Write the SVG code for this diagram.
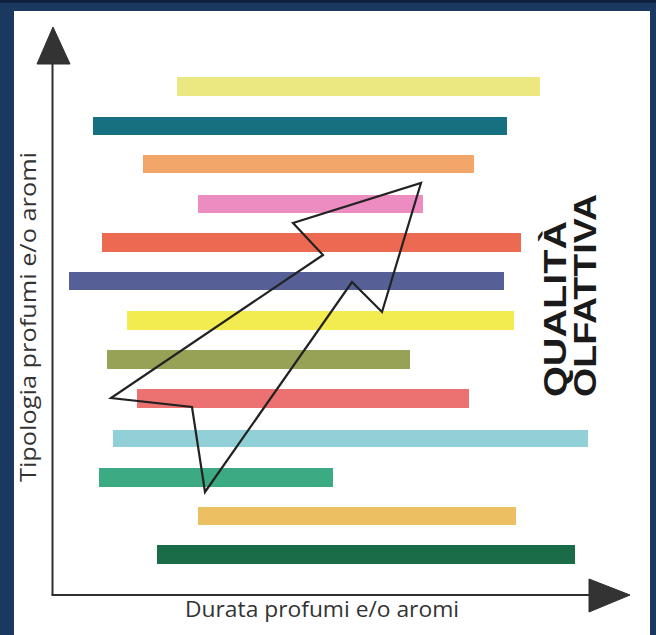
<svg xmlns="http://www.w3.org/2000/svg" width="656" height="635" viewBox="0 0 656 635">
  <style>
    .axis { stroke: #2e2e2e; stroke-width: 2; fill: none; }
    .head { fill: #333333; stroke: #2e2e2e; stroke-width: 1; }
    .lbl { font-family: "Open Sans", "Liberation Sans", sans-serif; font-size: 21px; fill: #333333; }
    .title { font-family: "Liberation Sans", Arial, sans-serif; font-weight: bold; font-size: 31px; fill: #1a1a1a; }
    .big { fill: none; stroke: #222222; stroke-width: 2.2; stroke-linejoin: miter; }
  </style>
  <rect x="0" y="0" width="656" height="635" fill="#1b3861"/>
  <rect x="0" y="0" width="656" height="3" fill="#10223d"/>
  <rect x="14" y="11" width="636" height="624" fill="#ffffff"/>

  <g id="bars">
    <rect id="bar1" x="177" y="77" width="363" height="19" fill="#ebe882"/>
    <rect id="bar2" x="93" y="117" width="414" height="18" fill="#17707f"/>
    <rect id="bar3" x="143" y="155" width="331" height="18" fill="#f2a66a"/>
    <rect id="bar4" x="198" y="195" width="225" height="18" fill="#ec8cc0"/>
    <rect id="bar5" x="102" y="233" width="419" height="19" fill="#ec6a52"/>
    <rect id="bar6" x="69" y="272" width="435" height="18" fill="#566097"/>
    <rect id="bar7" x="127" y="311" width="387" height="19" fill="#f3ec50"/>
    <rect id="bar8" x="107" y="350" width="303" height="19" fill="#98a257"/>
    <rect id="bar9" x="137" y="389" width="332" height="19" fill="#ec7272"/>
    <rect id="bar10" x="113" y="430" width="475" height="17" fill="#90d0d6"/>
    <rect id="bar11" x="99" y="468" width="234" height="19" fill="#3caa82"/>
    <rect id="bar12" x="198" y="507" width="318" height="18" fill="#ecc062"/>
    <rect id="bar13" x="157" y="545" width="418" height="19" fill="#1a6b47"/>
  </g>

  <g id="connectors">
    <g id="y-axis">
      <line class="axis" x1="52.5" y1="62" x2="52.5" y2="595"/>
      <polygon class="head" points="53,27 70,64 37,64"/>
    </g>
    <g id="x-axis">
      <line class="axis" x1="51.5" y1="595" x2="592" y2="595"/>
      <polygon class="head" points="589,579 630,595 589,612"/>
    </g>
  </g>

  <g id="quality-arrow">
    <polygon class="big" points="421,183 382,312 352,282 205,492 192,407 111,398 323,255 293,223"/>
  </g>

  <g id="label-y">
    <text class="lbl" transform="translate(36,482) rotate(-90)" textLength="330" lengthAdjust="spacingAndGlyphs">Tipologia profumi e/o aromi</text>
  </g>
  <g id="label-x">
    <text class="lbl" x="185" y="617" textLength="274" lengthAdjust="spacingAndGlyphs">Durata profumi e/o aromi</text>
  </g>
  <g id="label-quality">
    <text class="title" transform="translate(566,397) rotate(-90)" textLength="176" lengthAdjust="spacingAndGlyphs">QUALITÀ</text>
    <text class="title" transform="translate(596,397) rotate(-90)" textLength="203" lengthAdjust="spacingAndGlyphs">OLFATTIVA</text>
  </g>
</svg>
